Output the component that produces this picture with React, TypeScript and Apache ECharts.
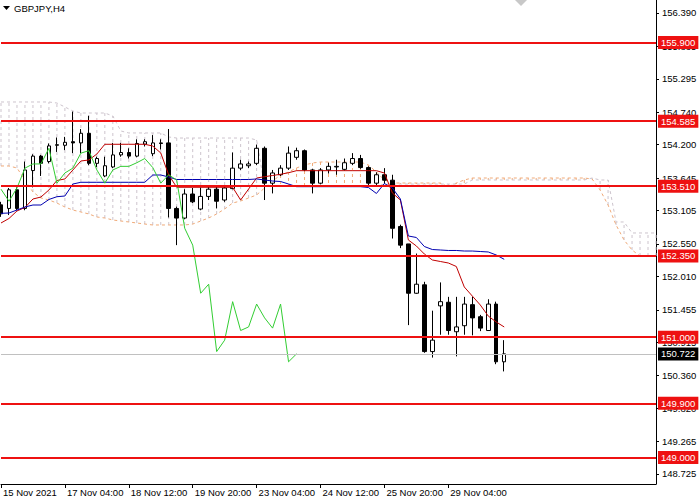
import React, { useEffect, useRef } from "react";
import * as echarts from "echarts";

// ---- data ----
const tickLabels = [
  "15 Nov 2021",
  "17 Nov 04:00",
  "18 Nov 12:00",
  "19 Nov 20:00",
  "23 Nov 04:00",
  "24 Nov 12:00",
  "25 Nov 20:00",
  "29 Nov 04:00",
];
const yTicks = [
  156.39, 155.835, 155.295, 154.74, 154.2, 153.645, 153.105, 152.55, 152.01,
  151.455, 150.915, 150.36, 149.82, 149.265, 148.725,
];
const levels = [155.9, 154.585, 153.51, 152.35, 151.0, 149.9, 149.0];
const bid = 150.722;

const opens = [
  153.2, 153.14, 153.45, 153.14, 153.77, 154.01, 153.92, 154.19, 154.19, 154.25,
  154.23, 154.39, 153.89, 153.68, 153.83, 154.03, 154.07, 154.01, 154.21, 154.05,
  154.23, 154.23, 153.14, 152.98, 153.38, 153.13, 153.34, 153.46, 153.28, 153.47,
  153.81, 153.85, 153.89, 154.14, 153.56, 153.7, 153.81, 153.99, 154.1, 153.78,
  153.56, 153.78, 153.83, 153.79, 153.89, 153.97, 153.82, 153.56, 153.7, 153.61,
  152.84, 152.55, 151.73, 151.87, 150.76, 151.52, 151.58, 151.09, 151.19, 151.54,
  151.34, 151.11, 151.55, 150.59,
];
const closes = [
  153.05, 153.45, 153.14, 153.78, 154.01, 153.89, 154.18, 154.2, 154.24, 154.23,
  154.39, 153.89, 153.97, 153.85, 154.03, 154.07, 154.01, 154.22, 154.25, 154.23,
  154.22, 153.14, 152.98, 153.38, 153.25, 153.34, 153.46, 153.26, 153.48, 153.81,
  153.88, 153.88, 154.14, 153.56, 153.73, 153.81, 154.06, 154.1, 153.78, 153.56,
  153.78, 153.84, 153.84, 153.9, 153.97, 153.82, 153.56, 153.7, 153.61, 152.81,
  152.53, 151.73, 151.88, 150.76, 150.95, 151.59, 151.11, 151.17, 151.55, 151.32,
  151.15, 151.55, 150.59, 150.722,
];
const lows = [
  153.0, 153.03, 153.11, 153.11, 153.49, 153.68, 153.89, 154.08, 154.11, 154.06,
  154.06, 153.86, 153.83, 153.66, 153.81, 154.0, 153.97, 153.99, 154.17, 154.01,
  154.12, 152.99, 152.53, 152.96, 153.23, 153.11, 153.28, 153.14, 153.25, 153.46,
  153.78, 153.81, 153.86, 153.28, 153.39, 153.68, 153.78, 153.95, 153.76, 153.39,
  153.54, 153.72, 153.7, 153.77, 153.86, 153.8, 153.52, 153.53, 153.55, 152.64,
  152.48, 151.2, 151.72, 150.74, 150.66, 151.04, 151.04, 150.68, 151.04, 151.03,
  151.1, 151.11, 150.55, 150.43,
];
const highs = [
  153.25, 153.48, 153.49, 153.92, 154.04, 154.03, 154.22, 154.32, 154.33, 154.75,
  154.46, 154.68, 154.0, 154.0, 154.23, 154.23, 154.14, 154.29, 154.29, 154.36,
  154.29, 154.46, 153.17, 153.46, 153.48, 153.49, 153.5, 153.51, 153.53, 154.07,
  153.95, 153.92, 154.2, 154.17, 153.78, 153.86, 154.17, 154.15, 154.12, 153.8,
  153.81, 153.9, 153.95, 153.97, 154.06, 154.03, 153.84, 153.74, 153.81, 153.7,
  152.87, 152.55, 152.39, 151.92, 151.44, 151.91, 151.67, 151.67, 151.67, 151.67,
  151.37, 151.63, 151.59, 150.95,
];

const tenkan = [
  152.898, 152.973, 153.098, 153.156, 153.297, 153.33, 153.447, 153.605, 153.63, 153.779,
  153.929, 153.946, 154.045, 154.207, 154.207, 154.207, 154.207, 154.207, 154.207, 154.178,
  154.062, 153.696, 153.492, 153.492, 153.492, 153.492, 153.492, 153.492, 153.492, 153.492,
  153.28, 153.463, 153.646, 153.668, 153.688, 153.708, 153.734, 153.768, 153.768, 153.768,
  153.768, 153.768, 153.768, 153.768, 153.768, 153.768, 153.768, 153.768, 153.729, 153.397,
  153.28, 152.615, 152.516, 152.382, 152.283, 152.258, 152.233, 152.175, 151.834, 151.684,
  151.535, 151.351, 151.252, 151.169,
];
const kijun = [
  153.059, 153.064, 153.114, 153.164, 153.197, 153.197, 153.289, 153.335, 153.347, 153.546,
  153.575, 153.575, 153.575, 153.575, 153.575, 153.575, 153.575, 153.575, 153.575, 153.696,
  153.696, 153.663, 153.621, 153.621, 153.621, 153.621, 153.621, 153.621, 153.621, 153.621,
  153.621, 153.621, 153.63, 153.613, 153.596, 153.588, 153.546, 153.502, 153.502, 153.502,
  153.502, 153.502, 153.502, 153.502, 153.502, 153.502, 153.488, 153.389, 153.555, 153.48,
  153.297, 152.682, 152.657, 152.507, 152.457, 152.449, 152.441, 152.441, 152.432, 152.432,
  152.424, 152.416, 152.366, 152.294,
];
const spanA = [
  153.846, 153.846, 153.813, 153.613, 153.413, 153.314, 153.28, 153.23, 153.164, 153.114,
  153.081, 153.048, 152.998, 152.981, 152.948, 152.931, 152.915, 152.898, 152.881, 152.865,
  152.865, 152.865, 152.865, 152.865, 152.88, 152.931, 152.981, 153.048, 153.131, 153.23,
  153.264, 153.314, 153.364, 153.48, 153.596, 153.696, 153.746, 153.813, 153.862, 153.896,
  153.912, 153.912, 153.912, 153.912, 153.912, 153.912, 153.862, 153.746, 153.613, 153.563,
  153.563, 153.563, 153.563, 153.563, 153.563, 153.563, 153.497, 153.563, 153.613, 153.646,
  153.646, 153.646, 153.646, 153.646, 153.646, 153.646, 153.646, 153.646, 153.646, 153.646,
  153.646, 153.646, 153.646, 153.646, 153.63, 153.447, 153.197, 152.865, 152.615, 152.449,
  152.349, 152.349, 152.349,
];
const spanB = [
  154.91, 154.91, 154.91, 154.91, 154.91, 154.91, 154.91, 154.893, 154.827, 154.76,
  154.727, 154.727, 154.727, 154.727, 154.677, 154.428, 154.395, 154.395, 154.395, 154.395,
  154.395, 154.328, 154.311, 154.311, 154.311, 154.311, 154.311, 154.311, 154.311, 154.311,
  154.311, 154.311, 154.278, 153.513, 153.513, 153.513, 153.513, 153.513, 153.513, 153.513,
  153.513, 153.513, 153.513, 153.513, 153.513, 153.513, 153.513, 153.513, 153.546, 153.546,
  153.546, 153.546, 153.546, 153.546, 153.546, 153.546, 153.546, 153.546, 153.546, 153.613,
  153.613, 153.613, 153.613, 153.613, 153.613, 153.613, 153.613, 153.613, 153.613, 153.613,
  153.613, 153.613, 153.613, 153.613, 153.646, 153.613, 153.613, 152.915, 152.915, 152.732,
  152.732, 152.732, 152.732,
];

const BAR_COUNT = 83;
const SHIFT = 26;

const RED = "#ee1111";
const SANDY = "#f0aa78";
const THISTLE = "#cdc4cd";
const FONT = "'Liberation Sans', Arial, sans-serif";

export default function App() {
  const ref = useRef<HTMLDivElement>(null);

  useEffect(() => {
    if (!ref.current) return;
    const chart = echarts.init(ref.current, undefined, { renderer: "svg" });

    const categories = Array.from({ length: BAR_COUNT }, (_, i) => String(i));
    const candleData = opens.map((o, i) => [o, closes[i], lows[i], highs[i]]);
    const chikou = closes.slice(SHIFT);
    const cloudData = spanA.map((a, i) => [i, a, spanB[i]]);
    const isLabelIdx = (i: number) => i % 8 === 0 && i / 8 < tickLabels.length;

    const levelItems: any[] = levels.map((v) => ({
      yAxis: v,
      lineStyle: { color: RED, width: 2, type: "solid" },
      label: {
        show: true,
        position: "end",
        distance: 2,
        formatter: () => v.toFixed(3),
        color: "#fff",
        backgroundColor: RED,
        padding: [2, 3, 1, 3],
        fontSize: 9.5,
        fontFamily: FONT,
      },
    }));
    levelItems.unshift({
      yAxis: bid,
      lineStyle: { color: "#c0c0c0", width: 1, type: "solid" },
      label: {
        show: true,
        position: "end",
        distance: 2,
        formatter: () => bid.toFixed(3),
        color: "#fff",
        backgroundColor: "#000",
        padding: [2, 3, 1, 3],
        fontSize: 9.5,
        fontFamily: FONT,
      },
    });

    chart.setOption({
      animation: false,
      backgroundColor: "#fff",
      grid: { left: 0, right: 44, top: 0, bottom: 16, containLabel: false },
      xAxis: {
        type: "category",
        data: categories,
        boundaryGap: false,
        axisLine: { show: true, lineStyle: { color: "#000", width: 1 } },
        axisTick: {
          show: true,
          interval: (i: number) => isLabelIdx(i),
          length: 4,
          lineStyle: { color: "#000" },
        },
        axisLabel: {
          interval: (i: number) => isLabelIdx(i),
          formatter: (_v: string, i: number) => tickLabels[i / 8] ?? "",
          align: "left",
          margin: 3,
          fontSize: 9.5,
          color: "#000",
          fontFamily: FONT,
          padding: [0, 0, 0, 2],
        },
        splitLine: { show: false },
      },
      yAxis: {
        type: "value",
        position: "right",
        min: 148.558,
        max: 156.606,
        axisLine: { show: true, lineStyle: { color: "#000", width: 1 } },
        axisTick: {
          show: true,
          customValues: yTicks,
          length: 3,
          lineStyle: { color: "#000" },
        },
        axisLabel: {
          customValues: yTicks,
          formatter: (v: number) => v.toFixed(3),
          margin: 6,
          fontSize: 9.5,
          color: "#000",
          fontFamily: FONT,
        },
        splitLine: { show: false },
      },
      graphic: [
        {
          type: "polygon",
          shape: { points: [[3, 6], [10, 6], [6.5, 10]] },
          style: { fill: "#000" },
        },
        {
          type: "text",
          left: 14,
          top: 3,
          style: { text: "GBPJPY,H4", fill: "#000", font: `9.5px ${FONT}` },
        },
        {
          type: "polygon",
          shape: { points: [[515, 0], [527, 0], [521, 6]] },
          style: { fill: "#c8c8c8" },
        },
      ],
      series: [
        {
          type: "custom",
          name: "kumo",
          z: 1,
          silent: true,
          data: cloudData,
          encode: { x: 0, y: [1, 2] },
          renderItem: (_params: any, api: any) => {
            const i = api.value(0);
            const a = api.value(1);
            const b = api.value(2);
            const p1 = api.coord([i, a]);
            const p2 = api.coord([i, b]);
            return {
              type: "line",
              shape: { x1: p1[0], y1: p1[1], x2: p2[0], y2: p2[1] },
              style: {
                stroke: a >= b ? SANDY : THISTLE,
                lineWidth: 1,
                lineDash: [3, 3],
              },
            };
          },
        },
        {
          type: "line",
          name: "Senkou A",
          z: 1,
          data: spanA,
          showSymbol: false,
          silent: true,
          lineStyle: { color: SANDY, width: 1, type: [3, 3] },
        },
        {
          type: "line",
          name: "Senkou B",
          z: 1,
          data: spanB,
          showSymbol: false,
          silent: true,
          lineStyle: { color: THISTLE, width: 1, type: [3, 3] },
        },
        {
          type: "candlestick",
          z: 2,
          data: candleData,
          barWidth: 4,
          silent: true,
          itemStyle: {
            color: "#fff",
            color0: "#000",
            borderColor: "#000",
            borderColor0: "#000",
            borderWidth: 1,
          },
        },
        {
          type: "line",
          name: "Tenkan",
          z: 3,
          data: tenkan,
          showSymbol: false,
          silent: true,
          lineStyle: { color: "#c00000", width: 1 },
        },
        {
          type: "line",
          name: "Kijun",
          z: 3,
          data: kijun,
          showSymbol: false,
          silent: true,
          lineStyle: { color: "#0000b0", width: 1 },
        },
        {
          type: "line",
          name: "Chikou",
          z: 3,
          data: chikou,
          showSymbol: false,
          silent: true,
          lineStyle: { color: "#32cd32", width: 1 },
        },
        {
          type: "line",
          name: "levels",
          z: 6,
          data: [],
          silent: true,
          markLine: {
            silent: true,
            symbol: ["none", "none"],
            animation: false,
            data: levelItems,
          },
        },
      ],
    });

    return () => chart.dispose();
  }, []);

  return (
    <div
      ref={ref}
      style={{ position: "fixed", left: 0, top: 0, width: 700, height: 500, background: "#fff" }}
    />
  );
}
